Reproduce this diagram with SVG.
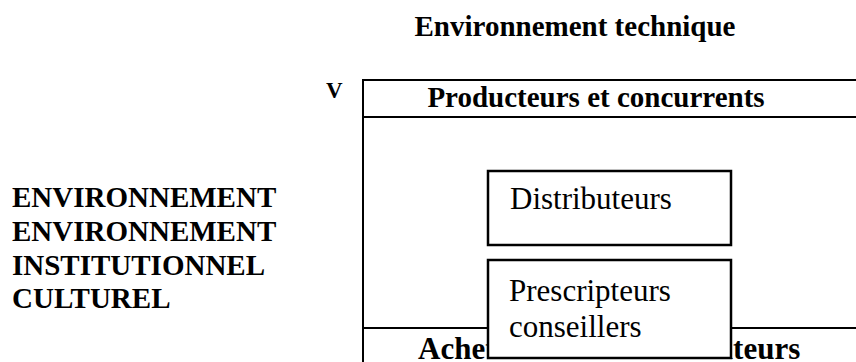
<svg xmlns="http://www.w3.org/2000/svg" width="856" height="362" viewBox="0 0 856 362">
<style>
.b{font-family:"Liberation Serif","Times New Roman",serif;font-weight:bold;fill:#000}
.r{font-family:"Liberation Serif","Times New Roman",serif;fill:#000}
.ln{stroke:#000;stroke-width:2;fill:none}
.bx{stroke:#000;stroke-width:2.5;fill:#fff}
</style>
<rect width="856" height="362" fill="#fff"/>
<g id="title"><text class="b" x="575" y="36" font-size="29" text-anchor="middle">Environnement technique</text></g>
<g id="left-label" class="b" font-size="29">
<text x="12" y="207">ENVIRONNEMENT</text>
<text x="12" y="241">ENVIRONNEMENT</text>
<text x="12" y="275">INSTITUTIONNEL</text>
<text x="12" y="308">CULTUREL</text>
</g>
<g id="v-label"><text class="b" x="326" y="98" font-size="23">V</text></g>
<g id="market">
<path class="ln" d="M857 80 H363 V363 M363 117 H857 M363 328 H857"/>
<text class="b" x="596" y="107" font-size="29" text-anchor="middle">Producteurs et concurrents</text>
<text class="b" x="418" y="359" font-size="31">Acheteurs et consommateurs</text>
</g>
<g id="distributeurs">
<rect class="bx" x="488" y="171" width="243" height="74"/>
<text class="r" x="510" y="209" font-size="31">Distributeurs</text>
</g>
<g id="prescripteurs">
<rect class="bx" x="488" y="260" width="243" height="98"/>
<text class="r" x="509" y="301" font-size="31">Prescripteurs</text>
<text class="r" x="509" y="337" font-size="31">conseillers</text>
</g>
<g id="connectors"></g>
</svg>
